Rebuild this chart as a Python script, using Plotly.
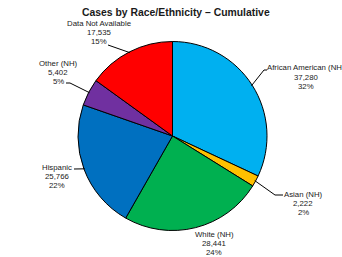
import math
import plotly.graph_objects as go

categories = ["African American (NH)", "Asian (NH)", "White (NH)", "Hispanic", "Other (NH)", "Data Not Available"]
cases = [37280, 2222, 28441, 25766, 5402, 17535]
colors = ["#00B0F0", "#FFC000", "#00B050", "#0070C0", "#7030A0", "#FF0000"]

W, H = 342, 257
CX, CY, R = 172.5, 136.0, 94.5  # pie centre / radius in pixels

# label layout (pixels): text centre x, first line y, leader elbow points
label_x = [306, 303, 214, 57, 58, 99]
label_y0 = [68, 194, 234, 167, 63, 23]
leader_pts = [
    [(264, 70), (267, 70)],
    [(275, 195), (283, 195)],
    None,
    [(74, 169)],
    [(70, 83), (66, 83)],
    [(108, 45)],
]
LINE = 9.3

def px(x):
    return x / W

def py(y):
    return 1 - y / H

fig = go.Figure(go.Pie(
    labels=categories, values=cases, sort=False, direction="clockwise", rotation=0,
    marker=dict(colors=colors, line=dict(color="black", width=1)),
    textinfo="none", hoverinfo="label+value+percent", showlegend=False,
    domain=dict(x=[px(CX - R), px(CX + R)], y=[py(CY + R), py(CY - R)]),
))

total = sum(cases)
cum = 0
annotations = []
shapes = []
for i, (cat, v) in enumerate(zip(categories, cases)):
    mid = (cum + v / 2) / total * 2 * math.pi
    cum += v
    ex = CX + R * 0.99 * math.sin(mid)
    ey = CY - R * 0.99 * math.cos(mid)
    pct = round(v / total * 100)
    lines = [cat, f"{v:,}", f"{pct}%"]
    for j, t in enumerate(lines):
        annotations.append(dict(
            x=px(label_x[i]), y=py(label_y0[i] + j * LINE), xref="paper", yref="paper",
            text=t, showarrow=False, xanchor="center", yanchor="middle",
            font=dict(family="Liberation Sans, Arial", size=7.8, color="#1a1a1a"),
        ))
    if leader_pts[i]:
        pts = [(ex, ey)] + leader_pts[i]
        for (x0, y0), (x1, y1) in zip(pts[:-1], pts[1:]):
            shapes.append(dict(type="line", xref="paper", yref="paper",
                               x0=px(x0), y0=py(y0), x1=px(x1), y1=py(y1),
                               line=dict(color="black", width=1)))

annotations.append(dict(
    x=px(176), y=py(12), xref="paper", yref="paper", showarrow=False,
    text="<b>Cases by Race/Ethnicity – Cumulative</b>", xanchor="center", yanchor="middle",
    font=dict(family="Liberation Sans, Arial", size=10.4, color="#1a1a1a"),
))

fig.update_layout(
    width=W, height=H, margin=dict(l=0, r=0, t=0, b=0),
    paper_bgcolor="white", plot_bgcolor="white",
    annotations=annotations, shapes=shapes,
)
fig.write_html("out.html", config={"displayModeBar": False},
               post_script="document.body.style.margin='0';document.body.style.overflow='hidden';")
